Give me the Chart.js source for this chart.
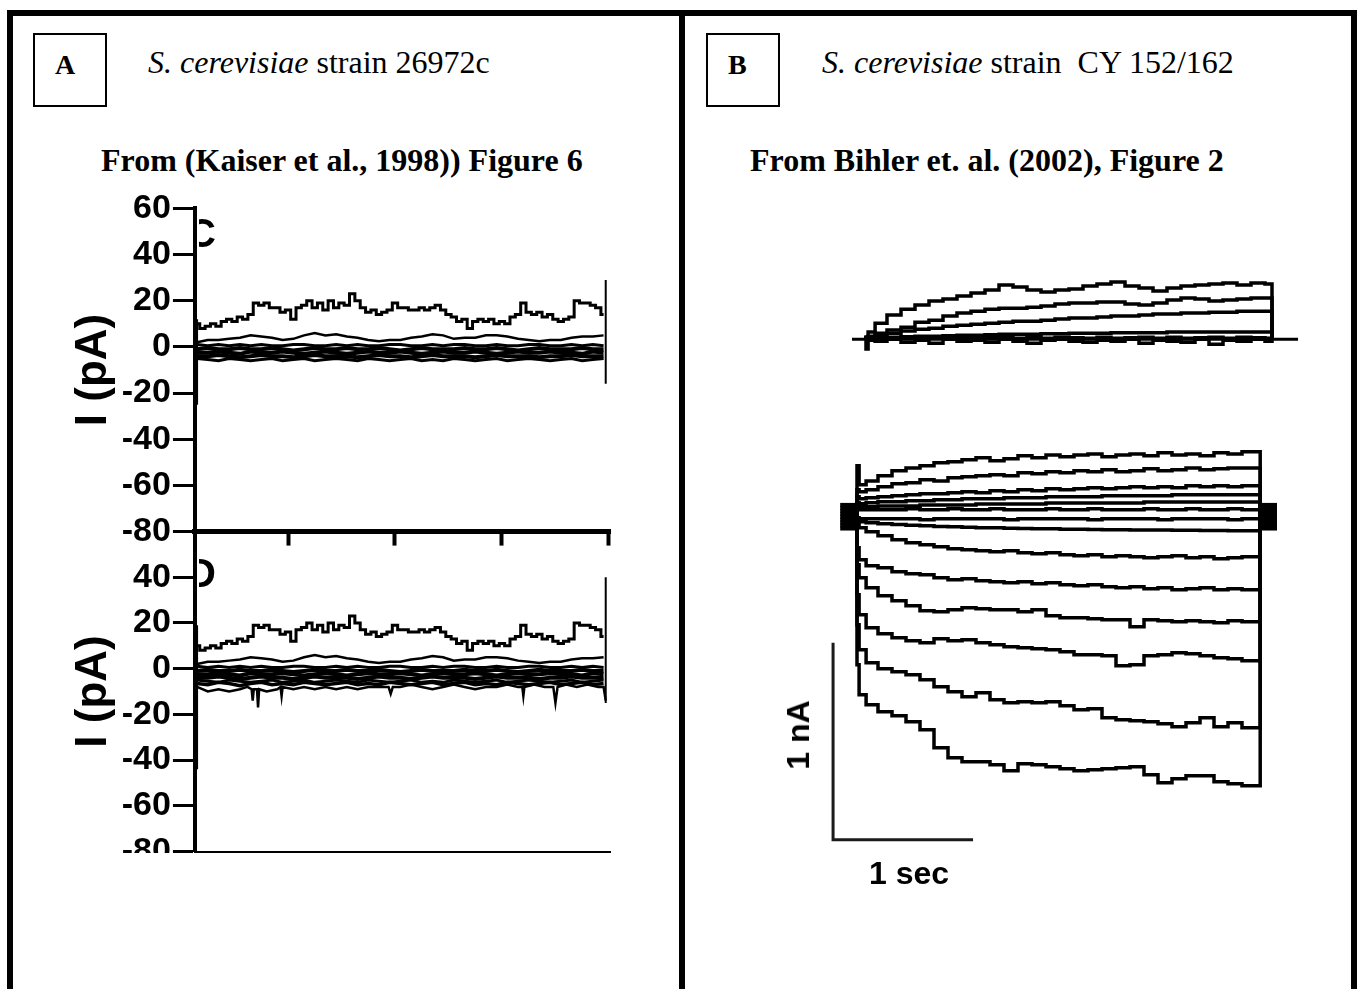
<!DOCTYPE html>
<html><head><meta charset="utf-8">
<script src="https://cdn.jsdelivr.net/npm/chart.js@4.4.0/dist/chart.umd.min.js"></script>
<style>
html,body{margin:0;padding:0;background:#fff;width:1361px;height:989px;overflow:hidden;position:relative}
.bar{position:absolute;background:#000}
.box{position:absolute;border:2px solid #000;box-sizing:border-box}
.t{position:absolute;white-space:pre;color:#000;line-height:1}
.serif{font-family:"Liberation Serif","Times New Roman",serif}
.sans{font-family:"Liberation Sans",Arial,sans-serif;font-weight:bold}
canvas{position:absolute}
.clip{position:absolute;overflow:hidden}
</style></head><body>
<div class="bar" style="left:7px;top:10px;width:1350px;height:6px"></div>
<div class="bar" style="left:7px;top:10px;width:6px;height:979px"></div>
<div class="bar" style="left:679px;top:10px;width:6px;height:979px"></div>
<div class="bar" style="left:1351px;top:10px;width:6px;height:979px"></div>
<div class="box" style="left:33px;top:33px;width:74px;height:74px"></div>
<div class="box" style="left:706px;top:33px;width:74px;height:74px"></div>
<div class="t serif" style="left:55px;top:51px;font-size:28px;font-weight:bold">A</div>
<div class="t serif" style="left:728px;top:51px;font-size:28px;font-weight:bold">B</div>
<div class="t serif" style="left:148px;top:46px;font-size:32px"><i>S. cerevisiae</i> strain 26972c</div>
<div class="t serif" style="left:822px;top:46px;font-size:32px"><i>S. cerevisiae</i> strain  CY 152/162</div>
<div class="t serif" style="left:101px;top:144px;font-size:32px;font-weight:bold">From (Kaiser et al., 1998)) Figure 6</div>
<div class="t serif" style="left:750px;top:144px;font-size:32px;font-weight:bold">From Bihler et. al. (2002), Figure 2</div>

<canvas id="cC"></canvas>
<div class="clip" style="left:0;top:0;width:680px;height:853px"><canvas id="cD"></canvas></div>
<div class="clip" style="left:199px;top:212px;width:22px;height:38px"><span class="t sans" style="left:-12px;top:1px;font-size:40px">C</span></div>
<div class="clip" style="left:199px;top:550px;width:22px;height:40px"><span class="t sans" style="left:-12px;top:3px;font-size:40px">D</span></div>
<canvas id="cBt"></canvas>
<canvas id="cBb"></canvas>
<div class="t sans" style="left:798px;top:735px;font-size:32px;transform:translate(-50%,-50%) rotate(-90deg)">1 nA</div>
<div class="t sans" style="left:909px;top:873px;font-size:32px;transform:translate(-50%,-50%)">1 sec</div>

<script>
// ---------- Panel A (Kaiser et al. 1998, Fig. 6 C/D), current in pA ----------
const yTicksC = [60, 40, 20, 0, -20, -40, -60, -80];
const yTicksD = [40, 20, 0, -20, -40, -60, -80];
const xTicksC = [1, 2, 3, 4];
const tA = [0.15,0.2,0.25,0.3,0.35,0.4,0.45,0.5,0.55,0.6,0.65,0.7,0.75,0.8,0.85,0.9,0.95,1,1.05,1.1,1.15,1.2,1.25,1.3,1.35,1.4,1.45,1.5,1.55,1.6,1.65,1.7,1.75,1.8,1.85,1.9,1.95,2,2.05,2.1,2.15,2.2,2.25,2.3,2.35,2.4,2.45,2.5,2.55,2.6,2.65,2.7,2.75,2.8,2.85,2.9,2.95,3,3.05,3.1,3.15,3.2,3.25,3.3,3.35,3.4,3.45,3.5,3.55,3.6,3.65,3.7,3.75,3.8,3.85,3.9,3.95];
const tA2 = [0.15,0.25,0.35,0.45,0.55,0.65,0.75,0.85,0.95,1.05,1.15,1.25,1.35,1.45,1.55,1.65,1.75,1.85,1.95,2.05,2.15,2.25,2.35,2.45,2.55,2.65,2.75,2.85,2.95,3.05,3.15,3.25,3.35,3.45,3.55,3.65,3.75,3.85,3.95];
const aTrace1 = [10,8,9,10,9,11,12,11,13,12,14,19,18,19,17,17,15,16,12,17,18,20,17,19,16,20,17,19,18,23,20,17,15,16,14,15,16,19,17,17,16,16,17,16,17,18,16,14,13,11,12,8,11,12,11,12,10,11,10,13,14,19,15,14,15,13,14,12,11,12,13,20,19,19,18,17,14];
const aTrace2 = [2,3,3,3.5,4,5,4.5,4,3,3.5,5,6,5,5.5,4.5,4,3,2.5,3,3,4,4.5,5.5,5,3.5,4,4,5,5,4.5,3.5,3,2.5,3,3,4,4.5,4.5,5];
const aTrace3 = [1,0.5,1,0.5,1,0.5,1,0.5,0.5,1,1,0.5,0.5,1,0.5,1,0.5,0.5,1,1,0.5,0.5,1,0.5,1,1,0.5,0.5,1,0.5,0.5,1,1,0.5,0.5,1,0.5,1,0.5];
const aTrace4 = [-1,-0.5,-1,-1,-0.5,-1,-1,-0.5,-1,-1.5,-1,-0.5,-1,-1,-0.5,-1,-1,-0.5,-1,-1.5,-1,-0.5,-1,-1,-1,-0.5,-1,-1,-0.5,-1,-1.5,-1,-0.5,-1,-1,-1,-0.5,-1,-1];
const aTrace5 = [-2.5,-2.5,-2,-2.5,-3,-2,-2.5,-2.5,-2,-2.5,-3,-2.5,-2,-2.5,-3,-2.5,-2,-2.5,-2.5,-2,-2.5,-3,-2.5,-2,-2.5,-2.5,-2,-2.5,-3,-2.5,-2,-2.5,-2.5,-2,-2.5,-2.5,-3,-2,-2.5];
const aTrace6 = [-4,-4,-3.5,-4,-4.5,-4,-3.5,-4,-4,-4.5,-4,-3.5,-4,-4,-4,-4.5,-4,-3.5,-4,-4,-4.5,-4,-3.5,-4,-4,-4,-4.5,-4,-3.5,-4,-4,-4,-4.5,-4,-4,-3.5,-4,-4,-4];
const aTrace7 = [-5,-5.5,-6,-5,-5.5,-6,-5.5,-5,-6,-5.5,-5,-6,-5.5,-5,-5.5,-6,-5,-5.5,-6,-5.5,-5,-6,-5.5,-6,-5,-5.5,-6,-5.5,-5,-6,-5.5,-5,-5.5,-6,-5.5,-5,-6,-5.5,-5];
const dTrace8 = [-6.5,-7,-6,-6.5,-7.5,-6.5,-6,-7,-6.5,-7,-6,-6.5,-7,-6.5,-6,-7,-6.5,-7,-6,-6.5,-7,-6.5,-6,-7,-6.5,-6,-7,-6.5,-7,-6,-6.5,-7,-6.5,-6,-7,-6.5,-6,-7,-6.5];
const dLowT = [0.15,0.25,0.35,0.45,0.55,0.62,0.66,0.67,0.68,0.71,0.72,0.73,0.8,0.9,0.93,0.94,0.95,1.05,1.15,1.25,1.35,1.45,1.55,1.65,1.75,1.85,1.94,1.96,1.98,2.05,2.15,2.25,2.35,2.45,2.55,2.65,2.75,2.85,2.95,3.05,3.15,3.19,3.2,3.21,3.3,3.4,3.48,3.5,3.52,3.6,3.7,3.8,3.9,3.95,3.97];
const dLowV = [-8,-10,-9,-10,-9,-8,-9,-14,-9,-9,-17,-9,-10,-9,-8,-12,-8,-9,-8,-9,-8,-9,-8,-9,-8,-8,-8,-11,-8,-8,-7,-8,-9,-8,-7,-8,-9,-8,-8,-7,-8,-8,-12,-8,-7,-8,-8,-15,-8,-7,-8,-7,-8,-8,-14];
const spikeT = [0.15, 3.97];
const spikeCLo = [-25, -16], spikeCHi = [12, 29];
const spikeDLo = [-44, -15], spikeDHi = [19, 40];

// ---------- Panel B (Bihler et al. 2002, Fig. 2), current in nA, time in s ----------
const pulseEndB = 2.88, pulseEndT = 2.9, holding = 0;
const tB = [0,0.03,0.1,0.2,0.3,0.4,0.5,0.6,0.7,0.8,0.9,1,1.1,1.2,1.3,1.4,1.5,1.6,1.7,1.8,1.9,2,2.1,2.2,2.3,2.4,2.5,2.6,2.7,2.8];
const bU1 = [0.239,0.142,0.162,0.188,0.213,0.228,0.239,0.254,0.259,0.269,0.279,0.264,0.274,0.289,0.279,0.294,0.284,0.294,0.299,0.284,0.294,0.299,0.289,0.305,0.294,0.299,0.289,0.305,0.299,0.310];
const bU2 = [0.117,0.107,0.117,0.132,0.147,0.152,0.168,0.162,0.178,0.183,0.188,0.193,0.188,0.203,0.198,0.208,0.203,0.213,0.208,0.218,0.208,0.213,0.223,0.213,0.218,0.228,0.218,0.223,0.228,0.228];
const bU3 = [0.081,0.071,0.076,0.081,0.086,0.091,0.096,0.096,0.102,0.107,0.102,0.112,0.107,0.117,0.112,0.122,0.117,0.122,0.127,0.122,0.127,0.132,0.127,0.132,0.127,0.137,0.132,0.137,0.132,0.137];
const bU4 = [0.051,0.046,0.051,0.056,0.056,0.061,0.061,0.066,0.066,0.071,0.071,0.071,0.076,0.076,0.076,0.081,0.081,0.081,0.081,0.086,0.086,0.086,0.086,0.086,0.091,0.091,0.091,0.091,0.091,0.091];
const bU5 = [0.03,0.03,0.03,0.035,0.035,0.035,0.04,0.04,0.04,0.04,0.045,0.045,0.045,0.045,0.045,0.05,0.05,0.05,0.05,0.05,0.05,0.05,0.055,0.055,0.055,0.055,0.055,0.055,0.055,0.055];
const bU6 = [0.02,0.015,0.015,0.015,0.015,0.02,0.015,0.015,0.02,0.015,0.015,0.02,0.015,0.015,0.015,0.02,0.015,0.015,0.02,0.015,0.015,0.015,0.02,0.015,0.015,0.02,0.015,0.015,0.02,0.015];
const bD1 = [-0.025,-0.03,-0.03,-0.03,-0.03,-0.03,-0.035,-0.03,-0.03,-0.03,-0.03,-0.03,-0.035,-0.03,-0.03,-0.03,-0.03,-0.03,-0.035,-0.03,-0.03,-0.03,-0.03,-0.035,-0.03,-0.03,-0.03,-0.03,-0.035,-0.03];
const bD2 = [-0.04,-0.046,-0.05,-0.056,-0.06,-0.063,-0.066,-0.07,-0.071,-0.074,-0.076,-0.076,-0.078,-0.08,-0.081,-0.081,-0.083,-0.084,-0.085,-0.086,-0.086,-0.087,-0.088,-0.088,-0.089,-0.089,-0.09,-0.09,-0.091,-0.091];
const bL1 = [-0.061,-0.076,-0.096,-0.117,-0.137,-0.152,-0.162,-0.173,-0.183,-0.188,-0.193,-0.198,-0.193,-0.203,-0.208,-0.203,-0.213,-0.218,-0.213,-0.223,-0.218,-0.223,-0.228,-0.223,-0.218,-0.228,-0.223,-0.234,-0.228,-0.223];
const bL2 = [-0.178,-0.239,-0.269,-0.279,-0.299,-0.310,-0.315,-0.330,-0.340,-0.335,-0.345,-0.350,-0.355,-0.350,-0.360,-0.355,-0.365,-0.371,-0.365,-0.376,-0.381,-0.376,-0.386,-0.381,-0.391,-0.386,-0.381,-0.391,-0.386,-0.391];
const bL3 = [-0.264,-0.330,-0.381,-0.421,-0.447,-0.472,-0.497,-0.503,-0.492,-0.482,-0.487,-0.492,-0.492,-0.503,-0.492,-0.523,-0.533,-0.533,-0.538,-0.543,-0.543,-0.579,-0.543,-0.548,-0.553,-0.548,-0.553,-0.558,-0.548,-0.553];
const bL4 = [-0.416,-0.518,-0.584,-0.614,-0.635,-0.650,-0.660,-0.640,-0.650,-0.645,-0.660,-0.670,-0.680,-0.685,-0.690,-0.695,-0.706,-0.721,-0.721,-0.726,-0.777,-0.772,-0.726,-0.721,-0.711,-0.716,-0.726,-0.736,-0.741,-0.751];
const bL5 = [-0.569,-0.695,-0.761,-0.792,-0.807,-0.822,-0.848,-0.883,-0.909,-0.934,-0.914,-0.949,-0.964,-0.959,-0.964,-0.959,-0.980,-1.000,-0.995,-1.041,-1.051,-1.056,-1.061,-1.071,-1.086,-1.066,-1.041,-1.086,-1.066,-1.091];
const bL6 = [-0.772,-0.924,-0.975,-1.010,-1.030,-1.061,-1.101,-1.193,-1.244,-1.264,-1.264,-1.279,-1.310,-1.274,-1.279,-1.289,-1.299,-1.310,-1.305,-1.299,-1.294,-1.289,-1.330,-1.371,-1.350,-1.335,-1.335,-1.365,-1.376,-1.386];
const holdLevels = [0.04, 0.025, 0.01, -0.005, -0.02, -0.035, -0.05, -0.065, -0.08];
const holdPre = [-0.12, 0], holdPost = [2.88, 3.0];
const scaleBarT = [-0.171, -0.171, 0.829], scaleBarI = [-0.66, -1.66, -1.66];

const tT = [0,0.03,0.1,0.2,0.3,0.4,0.5,0.6,0.7,0.8,0.9,1,1.1,1.2,1.3,1.4,1.5,1.6,1.7,1.8,1.9,2,2.1,2.2,2.3,2.4,2.5,2.6,2.7,2.8,2.9];
const tT1 = [0.01,0.036,0.081,0.122,0.152,0.173,0.193,0.203,0.218,0.234,0.249,0.274,0.264,0.249,0.239,0.249,0.254,0.269,0.279,0.289,0.269,0.259,0.244,0.259,0.269,0.274,0.279,0.284,0.274,0.284,0.279];
const tT2 = [0.005,0.015,0.030,0.046,0.061,0.086,0.096,0.117,0.132,0.142,0.152,0.157,0.157,0.162,0.168,0.178,0.183,0.183,0.188,0.188,0.178,0.173,0.183,0.198,0.208,0.203,0.193,0.198,0.203,0.208,0.208];
const tT3 = [0.005,0.010,0.020,0.030,0.041,0.051,0.056,0.066,0.071,0.076,0.081,0.086,0.091,0.091,0.096,0.102,0.107,0.107,0.112,0.117,0.117,0.122,0.127,0.127,0.132,0.132,0.137,0.137,0.142,0.142,0.142];
const tT4 = [0,0.005,0.008,0.010,0.012,0.015,0.015,0.018,0.02,0.02,0.022,0.025,0.025,0.025,0.028,0.028,0.03,0.03,0.03,0.033,0.033,0.033,0.033,0.036,0.036,0.036,0.036,0.036,0.036,0.036,0.036];
const tT5 = [-0.05,-0.005,-0.01,0,-0.015,-0.005,-0.02,0,-0.01,-0.005,-0.015,0,-0.01,-0.02,-0.005,0,-0.01,-0.015,-0.005,-0.01,0,-0.02,-0.005,-0.01,-0.015,0,-0.025,-0.005,-0.01,0,-0.01];
const tT6 = [0.01,0.005,0.01,0.008,0.005,0.01,0.005,0.008,0.01,0.005,0.01,0.008,0.005,0.01,0.005,0.01,0.008,0.005,0.01,0.005,0.008,0.01,0.005,0.01,0.005,0.008,0.01,0.005,0.01,0.008,0.005];
const baseT = [-0.1, 3.086];

// ---------- helpers ----------
const FONT = '"Liberation Sans", Arial, sans-serif';
function ds(xs, ys, w, stepped) {
  return {data: ys.map((v, i) => ({x: xs[i], y: v})), borderColor: '#000', borderWidth: w,
          pointRadius: 0, tension: 0, fill: false, stepped: stepped || false};
}
function pulse(xs, ys, end, w) {
  const pts = [{x: xs[0], y: holding}].concat(ys.map((v, i) => ({x: xs[i], y: v})));
  pts.push({x: end, y: ys[ys.length - 1]}, {x: end, y: holding});
  return {data: pts, borderColor: '#000', borderWidth: w, pointRadius: 0, tension: 0, fill: false, stepped: 'middle'};
}
function baseOpts() {
  return {responsive: false, maintainAspectRatio: false, animation: false, devicePixelRatio: 1, events: [],
          plugins: {legend: {display: false}, tooltip: {enabled: false}, title: {display: false}}};
}
function fitChart(id, build, r) {
  const cv = document.getElementById(id);
  const setSize = (w, h) => { cv.width = w; cv.height = h; cv.style.width = w + 'px'; cv.style.height = h + 'px'; };
  setSize(r.w + 300, r.h + 200);
  let ch = new Chart(cv, build());
  let a = ch.chartArea;
  const w = Math.round(cv.width + r.w - (a.right - a.left));
  const h = Math.round(cv.height + r.h - (a.bottom - a.top));
  ch.destroy();
  setSize(w, h);
  ch = new Chart(cv, build());
  a = ch.chartArea;
  cv.style.left = (r.x - a.left) + 'px';
  cv.style.top = (r.y - a.top) + 'px';
  return ch;
}
function panelA(yT, xT, xBorder) {
  const o = baseOpts();
  o.layout = {padding: {left: 6, right: 8, top: 4, bottom: 4}};
  o.scales = {
    x: {type: 'linear', min: 0.13, max: 4.01,
        afterBuildTicks: s => { s.ticks = xT.map(v => ({value: v})); },
        ticks: {display: false},
        grid: {drawOnChartArea: false, drawTicks: xT.length > 0, tickLength: 14, tickWidth: 4, color: '#000'},
        border: {width: xBorder, color: '#000'}},
    y: {type: 'linear', min: -80, max: 60,
        afterBuildTicks: s => { s.ticks = yT.map(v => ({value: v})); },
        ticks: {color: '#000', font: {family: FONT, weight: 'bold', size: 34, lineHeight: 1.2}, padding: 2, autoSkip: false},
        grid: {drawOnChartArea: false, tickLength: 22, tickWidth: 3, color: '#000'},
        border: {width: 4, color: '#000'},
        title: {display: true, text: 'I (pA)', color: '#000', padding: 0,
                font: {family: FONT, weight: 'bold', size: 44, lineHeight: 1.2}}}
  };
  return o;
}
function bandSets() {
  return [ds(tA, aTrace1, 3, 'middle'), ds(tA2, aTrace2, 2.5), ds(tA2, aTrace3, 3), ds(tA2, aTrace4, 4),
          ds(tA2, aTrace5, 4), ds(tA2, aTrace6, 4), ds(tA2, aTrace7, 3)];
}

// Chart C
fitChart('cC', () => {
  const sets = bandSets();
  spikeT.forEach((t, i) => sets.push(ds([t, t], [spikeCLo[i], spikeCHi[i]], 2)));
  return {type: 'line', data: {datasets: sets}, options: panelA(yTicksC, xTicksC, 5)};
}, {x: 195, y: 208, w: 415, h: 323});

// Chart D
fitChart('cD', () => {
  const sets = bandSets();
  sets.push(ds(tA2, dTrace8, 3.5), ds(dLowT, dLowV, 2.5));
  spikeT.forEach((t, i) => sets.push(ds([t, t], [spikeDLo[i], spikeDHi[i]], 2)));
  return {type: 'line', data: {datasets: sets}, options: panelA(yTicksD, [], 2)};
}, {x: 195, y: 531, w: 415, h: 320});

// Chart B top
fitChart('cBt', () => {
  const sets = [tT1, tT2, tT3, tT4, tT5, tT6].map(v => pulse(tT, v, pulseEndT, 3.5));
  sets.push(ds(baseT, [holding, holding], 3));
  const o = baseOpts();
  o.layout = {padding: 0};
  o.scales = {x: {type: 'linear', display: false, min: -0.2, max: 3.2},
              y: {type: 'linear', display: false, min: -0.1, max: 0.35}};
  return {type: 'line', data: {datasets: sets}, options: o};
}, {x: 838, y: 270, w: 476, h: 89});

// Chart B bottom
fitChart('cBb', () => {
  const sets = [bU1, bU2, bU3, bU4, bU5, bU6, bD1, bD2, bL1, bL2, bL3, bL4, bL5, bL6].map(v => pulse(tB, v, pulseEndB, 3.5));
  holdLevels.forEach(l => { sets.push(ds(holdPre, [l, l], 4)); sets.push(ds(holdPost, [l, l], 4)); });
  const bar = ds(scaleBarT, scaleBarI, 3); bar.borderColor = '#1a1a1a';
  sets.push(bar);
  const o = baseOpts();
  o.layout = {padding: 0};
  o.scales = {x: {type: 'linear', display: false, min: -0.3, max: 3.2},
              y: {type: 'linear', display: false, min: -1.9, max: 0.4}};
  return {type: 'line', data: {datasets: sets}, options: o};
}, {x: 815, y: 434, w: 490, h: 453});
</script>
</body></html>
